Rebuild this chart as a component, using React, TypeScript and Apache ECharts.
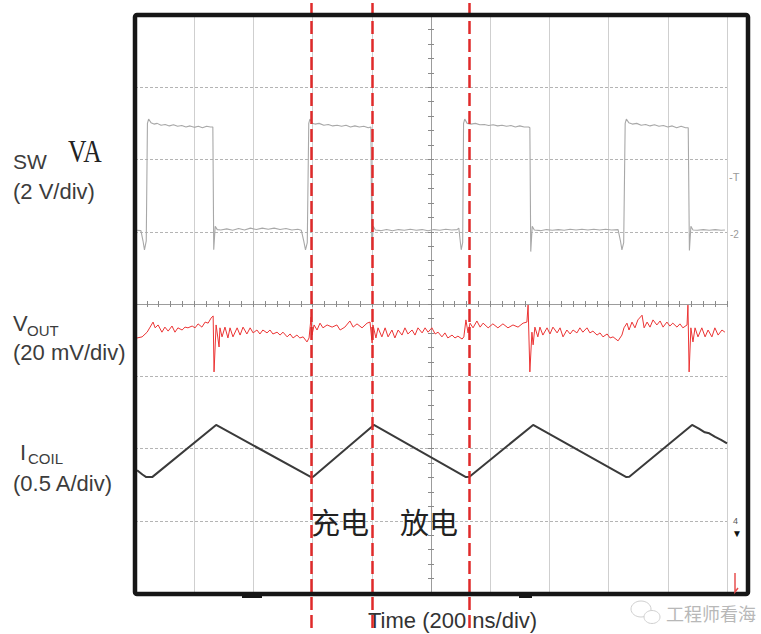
import React, { useEffect, useRef } from "react";
import * as echarts from "echarts";

// ---- scope settings ----
const TIME_MIN = -1000; // ns (relative to screen centre)
const TIME_MAX = 1000;
const TIME_PER_DIV = 200; // 200 ns/div
const DIV_MIN = -4;
const DIV_MAX = 4;

const SW_V_PER_DIV = 2;
const SW_OFFSET_DIV = 1.0;
const VOUT_MV_PER_DIV = 20;
const VOUT_OFFSET_DIV = -0.36;
const ICOIL_A_PER_DIV = 0.5;
const ICOIL_OFFSET_DIV = -3;

// ---- traces: [time ns, value] ----
const SW_TRACE: [number, number][] = [
  [-993, 0.04], [-980, 0.03], [-973, -0.25], [-968, -0.5], [-962, -0.25], [-958, 3.0], [-954, 3.12], [-946, 3.02],
  [-936, 2.98], [-925, 3.0], [-912, 2.95], [-898, 2.97], [-884, 2.93], [-870, 2.96], [-856, 2.92], [-842, 2.94],
  [-828, 2.9], [-814, 2.93], [-800, 2.89], [-786, 2.92], [-772, 2.88], [-758, 2.92], [-745, 2.9], [-737, 2.9],
  [-734, -0.5], [-729, 0.15], [-722, 0.06],
  [-710, 0.05], [-690, 0.08], [-670, 0.04], [-650, 0.09], [-630, 0.05], [-610, 0.1], [-590, 0.06], [-570, 0.1],
  [-550, 0.07], [-530, 0.1], [-510, 0.06], [-490, 0.09], [-470, 0.05], [-450, 0.07], [-438, 0.04],
  [-430, -0.25], [-424, -0.5], [-418, -0.3], [-413, 3.0], [-409, 3.12], [-400, 3.0],
  [-392, 2.98], [-378, 3.0], [-362, 2.95], [-347, 2.97], [-332, 2.93], [-317, 2.95], [-302, 2.92], [-287, 2.95],
  [-272, 2.9], [-257, 2.93], [-242, 2.9], [-227, 2.92], [-212, 2.88], [-203, 2.9],
  [-200, -0.5], [-195, 0.15], [-188, 0.05],
  [-170, 0.03], [-150, 0.06], [-130, 0.03], [-110, 0.06], [-90, 0.04], [-70, 0.07], [-50, 0.04], [-30, 0.06],
  [-10, 0.03], [10, 0.06], [30, 0.04], [50, 0.07], [70, 0.05], [88, 0.06], [94, 0.1],
  [98, -0.2], [102, -0.5], [107, -0.3], [110, 3.0], [114, 3.12], [122, 3.0],
  [135, 2.98], [150, 3.0], [165, 2.96], [180, 2.97], [195, 2.94], [210, 2.96], [225, 2.93], [240, 2.95],
  [255, 2.92], [270, 2.94], [285, 2.9], [300, 2.93], [315, 2.9], [330, 2.9], [334, 2.88],
  [337, -0.55], [342, 0.15], [349, 0.05],
  [370, 0.03], [390, 0.06], [410, 0.04], [430, 0.06], [450, 0.04], [470, 0.07], [490, 0.05], [510, 0.07],
  [530, 0.05], [550, 0.07], [570, 0.05], [590, 0.07], [610, 0.05], [632, 0.06],
  [640, -0.25], [645, -0.5], [651, -0.3], [656, 3.0], [660, 3.12], [668, 3.02],
  [680, 2.98], [695, 3.0], [710, 2.95], [725, 2.97], [740, 2.93], [755, 2.96], [770, 2.92], [785, 2.94],
  [800, 2.9], [815, 2.93], [830, 2.88], [845, 2.92], [860, 2.88], [869, 2.88],
  [873, -0.52], [878, 0.15], [885, 0.05],
  [900, 0.04], [920, 0.06], [940, 0.04], [960, 0.06], [980, 0.04], [993, 0.05],
];

const VOUT_TRACE: [number, number][] = [
  [-993, -2.2], [-976, -1.9], [-959, -0.6], [-949, 0.8], [-939, 2.2], [-932, 0.6], [-922, 1.4], [-909, -0.6],
  [-899, 0.8], [-888, -0.3], [-875, 1.1], [-865, -0.6], [-855, 0.6], [-841, 0], [-831, 0.8], [-821, 0.6],
  [-807, 1.1], [-797, 0.6], [-787, 1.7], [-774, 0.8], [-763, 2.2], [-753, 1.9], [-743, 3.3], [-736, 3.9],
  [-733, -11.6], [-726, 1.4], [-720, -2.2], [-716, -4.7], [-713, 0.6], [-706, -1.9], [-696, 0.8], [-686, -2.2],
  [-679, 0.6], [-669, -1.9], [-655, 0.6], [-645, -1.4], [-635, 0.8], [-622, -1.1], [-611, 0.6], [-601, -0.8],
  [-588, 0], [-578, -1.1], [-568, 0], [-554, -0.8], [-544, 0], [-534, -1.1], [-520, -0.6], [-510, -1.4],
  [-500, -0.6], [-486, -1.9], [-476, -1.1], [-466, -2.2], [-453, -1.4], [-443, -2.2], [-432, -1.9], [-419, -3.3],
  [-412, -2.2], [-405, 3.6], [-402, -1.4], [-395, 1.4], [-385, 0], [-375, 1.9], [-365, 0.6], [-351, 1.4],
  [-334, 0.8], [-318, 1.4], [-307, 0], [-291, 0.8], [-274, 2.5], [-263, 0.8], [-250, 1.7], [-233, 0.6],
  [-216, 1.9], [-206, 2.2], [-199, -3.6], [-196, 1.4], [-186, -2.2], [-179, 0.6], [-166, -1.9], [-155, 0.6],
  [-145, -1.9], [-132, 0], [-122, -2.2], [-111, 0], [-98, -1.4], [-88, 0.6], [-78, -1.1], [-64, 0],
  [-54, -1.4], [-44, 0.6], [-30, -0.8], [-20, 0.6], [-10, -0.6], [3, 0.6], [14, -1.1], [24, -0.6],
  [37, -1.9], [47, -0.8], [57, -2.2], [71, -1.4], [81, -2.2], [91, -1.7], [105, -2.5], [111, -1.9],
  [118, 2.8], [125, -0.8], [132, 1.9], [142, 0.6], [155, 2.5], [166, 0.8], [176, 1.9], [193, 0.6],
  [209, 1.7], [226, 0.6], [243, 1.7], [260, 0.6], [277, 1.4], [294, 0.8], [311, 1.9], [324, 2.2],
  [328, 6.9], [334, -11.6], [341, -0.6], [345, -4.1], [351, 0.8], [361, -1.9], [368, 0.8], [378, -1.4],
  [392, 0.6], [402, -1.1], [412, 0.8], [426, -0.8], [436, 0.6], [446, -1.9], [459, 0], [470, -1.1],
  [480, 0], [493, -0.8], [503, 0.6], [513, -0.6], [527, 0.6], [537, -0.8], [547, -0.3], [561, -1.4],
  [571, -0.8], [581, -1.9], [595, -1.1], [605, -2.2], [615, -1.9], [632, -3.0], [645, -1.4], [652, 0.6],
  [662, 1.9], [669, 0], [679, 2.2], [689, 0.6], [699, 2.8], [713, 4.1], [720, 0.6], [730, 2.2],
  [740, 0.8], [750, 2.8], [763, 1.4], [774, 2.5], [784, 0.8], [797, 2.2], [807, 1.1], [817, 1.9],
  [831, 0.8], [841, 1.7], [851, 0.6], [865, 1.4], [868, 6.9], [872, -11.6], [878, 0.6], [885, -3.3],
  [892, 0.6], [902, -1.9], [915, 0.6], [926, -1.9], [936, 0], [949, -1.9], [959, 0.6], [970, -1.4],
  [983, 0], [993, -0.6],
];

const ICOIL_TRACE: [number, number][] = [
  [-993, 0.35], [-975, 0.32], [-962, 0.302], [-942, 0.302], [-726, 0.663], [-405, 0.302], [-398, 0.305],
  [-193, 0.663], [118, 0.302], [130, 0.305], [345, 0.663], [660, 0.302], [670, 0.305], [882, 0.663],
  [905, 0.638], [925, 0.612], [940, 0.605], [960, 0.58], [980, 0.56], [1000, 0.535],
];

// cursor (dashed) lines, ns
const CURSOR_TIMES = [-403, -198, 129];

const SANS = "'Liberation Sans', Arial, Helvetica, sans-serif";
const CJK = "'Noto Sans CJK SC', sans-serif";

export default function App() {
  const ref = useRef<HTMLDivElement>(null);
  useEffect(() => {
    if (!ref.current) return;
    const chart = echarts.init(ref.current, undefined, { renderer: "svg" });

    const centreAxisX = (position: "bottom" | "top", split: boolean) => ({
      type: "value",
      gridIndex: 0,
      min: TIME_MIN,
      max: TIME_MAX,
      interval: TIME_PER_DIV,
      position,
      axisLine: { show: true, onZero: true, lineStyle: { color: "#9c9c9c", width: 1 } },
      axisTick: { show: true, length: 3, lineStyle: { color: "#8a8a8a", width: 1 } },
      minorTick: { show: true, splitNumber: 5, length: 3, lineStyle: { color: "#8a8a8a", width: 1 } },
      axisLabel: { show: false },
      splitLine: { show: split, lineStyle: { color: "#cfcfcf", width: 1, type: "solid" } },
    });
    const centreAxisY = (position: "left" | "right", split: boolean) => ({
      type: "value",
      gridIndex: 0,
      min: DIV_MIN,
      max: DIV_MAX,
      interval: 1,
      position,
      axisLine: { show: true, onZero: true, lineStyle: { color: "#9c9c9c", width: 1 } },
      axisTick: { show: true, length: 3, lineStyle: { color: "#8a8a8a", width: 1 } },
      minorTick: { show: true, splitNumber: 5, length: 3, lineStyle: { color: "#8a8a8a", width: 1 } },
      axisLabel: { show: false },
      splitLine: { show: split, lineStyle: { color: "#b4b4b4", width: 1, type: [3, 2] } },
    });

    const text = (t: string, x: number, y: number, font: string, fill = "#3c3c3c", extra: any = {}) => ({
      type: "text",
      x,
      y,
      z: 20,
      silent: true,
      ...extra,
      style: { text: t, font, fill, textAlign: "left", textVerticalAlign: "middle", ...(extra.style || {}) },
    });

    const option: any = {
      animation: false,
      backgroundColor: "#ffffff",
      grid: [
        { left: 135, right: 34, top: 15, bottom: 41 },
        { left: 135, right: 34, top: 0, bottom: 6 },
      ],
      xAxis: [
        centreAxisX("bottom", true),
        centreAxisX("top", false),
        { type: "value", gridIndex: 1, min: TIME_MIN, max: TIME_MAX, show: false },
      ],
      yAxis: [
        centreAxisY("left", true),
        centreAxisY("right", false),
        { type: "value", gridIndex: 1, min: 0, max: 1, show: false },
      ],
      series: [
        {
          name: "SW",
          type: "line",
          xAxisIndex: 0,
          yAxisIndex: 0,
          symbol: "none",
          silent: true,
          z: 3,
          lineStyle: { color: "#a8a8a8", width: 1.1 },
          data: SW_TRACE.map(([t, v]) => [t, SW_OFFSET_DIV + v / SW_V_PER_DIV]),
        },
        {
          name: "VOUT",
          type: "line",
          xAxisIndex: 0,
          yAxisIndex: 0,
          symbol: "none",
          silent: true,
          z: 3,
          lineStyle: { color: "#ec3434", width: 1 },
          data: VOUT_TRACE.map(([t, v]) => [t, VOUT_OFFSET_DIV + v / VOUT_MV_PER_DIV]),
        },
        {
          name: "ICOIL",
          type: "line",
          xAxisIndex: 0,
          yAxisIndex: 0,
          symbol: "none",
          silent: true,
          z: 3,
          lineStyle: { color: "#3a3a3a", width: 2 },
          data: ICOIL_TRACE.map(([t, a]) => [t, ICOIL_OFFSET_DIV + a / ICOIL_A_PER_DIV]),
        },
        {
          name: "cursors",
          type: "line",
          xAxisIndex: 2,
          yAxisIndex: 2,
          symbol: "none",
          silent: true,
          z: 10,
          lineStyle: { width: 0, opacity: 0 },
          data: [[0, 0.5]],
          markLine: {
            silent: true,
            symbol: ["none", "none"],
            label: { show: false },
            lineStyle: { color: "#e02a2a", width: 2.5, type: [13, 5] },
            data: CURSOR_TIMES.map((t) => ({ xAxis: t })),
          },
        },
      ],
      graphic: [
        {
          type: "rect",
          z: 6,
          silent: true,
          shape: { x: 135, y: 15, width: 613, height: 579, r: 2 },
          style: { fill: "none", stroke: "#161616", lineWidth: 4.5 },
        },
        { type: "rect", z: 6, silent: true, shape: { x: 242, y: 593, width: 20, height: 5 }, style: { fill: "#161616" } },
        { type: "rect", z: 6, silent: true, shape: { x: 519, y: 593, width: 13, height: 5 }, style: { fill: "#161616" } },
        // channel markers at right
        text("-T", 729, 177, `11px ${SANS}`, "#9a9a9a"),
        text("-2", 730, 234, `10px ${SANS}`, "#9a9a9a"),
        text("4", 733, 521, `9px ${SANS}`, "#555"),
        text("▼", 732, 533, `10px ${SANS}`, "#111"),
        {
          type: "polyline",
          z: 20,
          silent: true,
          shape: { points: [[735, 573], [735, 592], [738, 588]] },
          style: { stroke: "#e85050", lineWidth: 1.5, fill: "none" },
        },
        // left labels
        text("SW", 13, 161, `21px ${SANS}`),
        text("VA", 68, 151, `32px 'Liberation Serif', 'DejaVu Serif', serif`, "#222", { scaleX: 0.8 }),
        text("(2 V/div)", 13, 191, `22px ${SANS}`),
        text("V", 13, 323, `22px ${SANS}`),
        text("OUT", 27, 330, `15px ${SANS}`),
        text("(20 mV/div)", 13, 352, `22px ${SANS}`),
        text("I", 20, 452, `22px ${SANS}`),
        text("COIL", 28, 458, `15px ${SANS}`),
        text("(0.5 A/div)", 13, 483, `22px ${SANS}`),
        // annotations
        text("充电", 311, 521, `29px ${CJK}`, "#222"),
        text("放电", 400, 521, `29px ${CJK}`, "#222"),
        text("Time (200 ns/div)", 368, 620, `22px ${SANS}`, "#333", { z: 5 }),
        // watermark
        {
          type: "ellipse",
          z: 20,
          silent: true,
          shape: { cx: 641, cy: 609, rx: 10, ry: 8 },
          style: { fill: "#ffffff", stroke: "#d0d0d0", lineWidth: 1 },
        },
        {
          type: "ellipse",
          z: 21,
          silent: true,
          shape: { cx: 652, cy: 617, rx: 8, ry: 6.5 },
          style: { fill: "#ffffff", stroke: "#d0d0d0", lineWidth: 1 },
        },
        text("工程师看海", 666, 613, `18px ${CJK}`, "#b8b8b8"),
      ],
    };

    chart.setOption(option);
    return () => chart.dispose();
  }, []);

  return (
    <div
      ref={ref}
      style={{ position: "fixed", left: 0, top: 0, width: 761, height: 634, background: "#ffffff" }}
    />
  );
}
